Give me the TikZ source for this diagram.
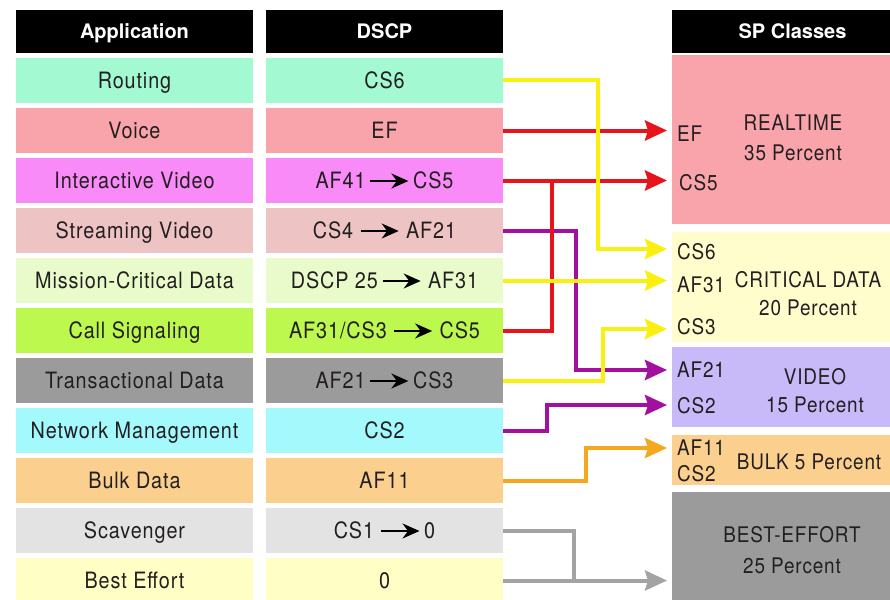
\documentclass[tikz,border=0pt]{standalone}
\usepackage{fontspec}
\setmainfont{TeX Gyre Heros}[FakeStretch=0.88,LetterSpace=4]
\newfontfamily\hdrfont{TeX Gyre Heros}
\usetikzlibrary{arrows.meta,calc}
\definecolor{txt}{HTML}{231F20}
\definecolor{cRouting}{HTML}{A3F9D2}
\definecolor{cVoice}{HTML}{F9A4AB}
\definecolor{cIVideo}{HTML}{F98BF9}
\definecolor{cStream}{HTML}{EEC3C3}
\definecolor{cMission}{HTML}{EAFBCB}
\definecolor{cCall}{HTML}{BDF84E}
\definecolor{cTrans}{HTML}{9B9B9B}
\definecolor{cNet}{HTML}{A3F9FC}
\definecolor{cBulk}{HTML}{FBD08E}
\definecolor{cScav}{HTML}{E3E3E3}
\definecolor{cBest}{HTML}{FFFEC4}
\definecolor{cCrit}{HTML}{FFFDCB}
\definecolor{cVideo}{HTML}{C8B9F9}
\definecolor{aYel}{HTML}{FAF010}
\definecolor{aRed}{HTML}{E8141C}
\definecolor{aPur}{HTML}{A3109F}
\definecolor{aOra}{HTML}{F5A81E}
\definecolor{aGry}{HTML}{A3A3A3}
\newcommand{\dscparrow}{\tikz[baseline={(0pt,-7.5pt)},x=1pt,y=1pt]\draw[black,line width=2pt,-{Stealth[length=17pt,width=15pt]}] (0pt,0pt) -- (38pt,0pt);}
\begin{document}
\begin{tikzpicture}[x=1pt,y=-1pt,
  cell/.style={minimum width=237pt,minimum height=45pt,inner sep=0pt,text=txt,text height=16pt,text depth=0pt,font=\fontsize{22.5}{24}\selectfont},
  hdr/.style={fill=black,minimum height=43pt,inner sep=0pt,text=white,text height=14.4pt,text depth=0pt,font=\hdrfont\bfseries\fontsize{20}{22}\selectfont},
  cls/.style={inner sep=0pt,minimum width=223pt},
  lab/.style={inner sep=0pt,text=txt,text height=15.4pt,text depth=0pt,font=\fontsize{21.5}{22}\selectfont},
  conn/.style={line width=4pt},
  tip/.style={-{Stealth[length=22pt,width=20pt,inset=3pt]}}]
\clip (0,0) rectangle (890,599);
\fill[white] (0,0) rectangle (890,599);
% headers
\node[hdr,minimum width=237pt] (hApp) at (134.5,31.5) {Application};
\node[hdr,minimum width=237pt] (hDscp) at (384.5,31.5) {DSCP};
\node[hdr,minimum width=223pt] (hSP) at (783.5,31.5) {};
\node[inner sep=0pt,text=white,text height=14.4pt,text depth=0pt,font=\hdrfont\bfseries\fontsize{20}{22}\selectfont] (hSPt) at (792.5,31.5) {SP Classes};
% application column
\node[cell,fill=cRouting] (a1) at (134.5,80.5) {Routing};
\node[cell,fill=cVoice] (a2) at (134.5,130.5) {Voice};
\node[cell,fill=cIVideo] (a3) at (134.5,180.5) {Interactive Video};
\node[cell,fill=cStream] (a4) at (134.5,230.5) {Streaming Video};
\node[cell,fill=cMission] (a5) at (134.5,280.5) {Mission-Critical Data};
\node[cell,fill=cCall] (a6) at (134.5,330.5) {Call Signaling};
\node[cell,fill=cTrans] (a7) at (134.5,380.5) {Transactional Data};
\node[cell,fill=cNet] (a8) at (134.5,430.5) {Network Management};
\node[cell,fill=cBulk] (a9) at (134.5,480.5) {Bulk Data};
\node[cell,fill=cScav] (a10) at (134.5,530.5) {Scavenger};
\node[cell,fill=cBest] (a11) at (134.5,580.5) {Best Effort};
% dscp column
\node[cell,fill=cRouting] (d1) at (384.5,80.5) {CS6};
\node[cell,fill=cVoice] (d2) at (384.5,130.5) {EF};
\node[cell,fill=cIVideo] (d3) at (384.5,180.5) {AF41\,\dscparrow\,CS5};
\node[cell,fill=cStream] (d4) at (384.5,230.5) {CS4 \dscparrow\ AF21};
\node[cell,fill=cMission] (d5) at (384.5,280.5) {DSCP 25\,\dscparrow\ AF31};
\node[cell,fill=cCall] (d6) at (384.5,330.5) {AF31/CS3 \dscparrow\ CS5};
\node[cell,fill=cTrans] (d7) at (384.5,380.5) {AF21\,\dscparrow\,CS3};
\node[cell,fill=cNet] (d8) at (384.5,430.5) {CS2};
\node[cell,fill=cBulk] (d9) at (384.5,480.5) {AF11};
\node[cell,fill=cScav] (d10) at (384.5,530.5) {CS1 \dscparrow\,0};
\node[cell,fill=cBest] (d11) at (384.5,580.5) {0};
% SP classes
\node[cls,fill=cVoice,minimum height=169pt] (cRT) at (783.5,139.5) {};
\node[cls,fill=cCrit,minimum height=110pt] (cCD) at (783.5,287) {};
\node[cls,fill=cVideo,minimum height=80pt] (cVI) at (783.5,387) {};
\node[cls,fill=cBulk,minimum height=50pt] (cBK) at (783.5,460) {};
\node[cls,fill=cTrans,minimum height=113pt] (cBE) at (783.5,548.5) {};
% class texts
\node[lab] (tRT1) at (793,123) {REALTIME};
\node[lab] (tRT2) at (793,153) {35 Percent};
\node[lab,anchor=west] (lEF) at (677,134) {EF};
\node[lab,anchor=west] (lCS5) at (679,183) {CS5};
\node[lab] (tCD1) at (808,280) {CRITICAL DATA};
\node[lab] (tCD2) at (808,308) {20 Percent};
\node[lab,anchor=west] (lCS6) at (677,252) {CS6};
\node[lab,anchor=west] (lAF31) at (677,285) {AF31};
\node[lab,anchor=west] (lCS3) at (677,327) {CS3};
\node[lab] (tVI1) at (815,377) {VIDEO};
\node[lab] (tVI2) at (815,405) {15 Percent};
\node[lab,anchor=west] (lAF21) at (677,370) {AF21};
\node[lab,anchor=west] (lCS2a) at (677,406) {CS2};
\node[lab] (tBK) at (809,462) {BULK 5 Percent};
\node[lab,anchor=west] (lAF11) at (677,448) {AF11};
\node[lab,anchor=west] (lCS2b) at (677,474) {CS2};
\node[lab] (tBE1) at (792,535) {BEST-EFFORT};
\node[lab] (tBE2) at (792,566) {25 Percent};
% arrow targets
\coordinate (pEF) at (667,130.5);
\coordinate (pCS5) at (667,180.5);
\coordinate (pCS6) at (667,249);
\coordinate (pAF31) at (667,280.5);
\coordinate (pCS3) at (667,329);
\coordinate (pAF21) at (667,370);
\coordinate (pCS2a) at (667,405);
\coordinate (pAF11) at (667,448);
\coordinate (pBE) at (667,580.5);
% connectors
\draw[conn,aPur,tip] (d4.east) -- ++(73,0) |- (pAF21);
\draw[conn,aPur,tip] (d8.east) -- ++(44,0) |- (pCS2a);
\draw[conn,aRed] (d6.east) -| ($(d3.east)+(49,0)$);
\draw[conn,aRed,tip] (d2.east) -- (pEF);
\draw[conn,aRed,tip] (d3.east) -- (pCS5);
\draw[conn,aYel,tip] (d5.east) -- (pAF31);
\draw[conn,aYel,tip] (d1.east) -- ++(95,0) |- (pCS6);
\draw[conn,aYel,tip] (d7.east) -- ++(100,0) |- (pCS3);
\draw[conn,aOra,tip] (d9.east) -- ++(83,0) |- (pAF11);
\draw[conn,aGry] (d10.east) -| ($(d11.east)+(71,0)$);
\draw[conn,aGry,tip] (d11.east) -- (pBE);
\end{tikzpicture}
\end{document}
